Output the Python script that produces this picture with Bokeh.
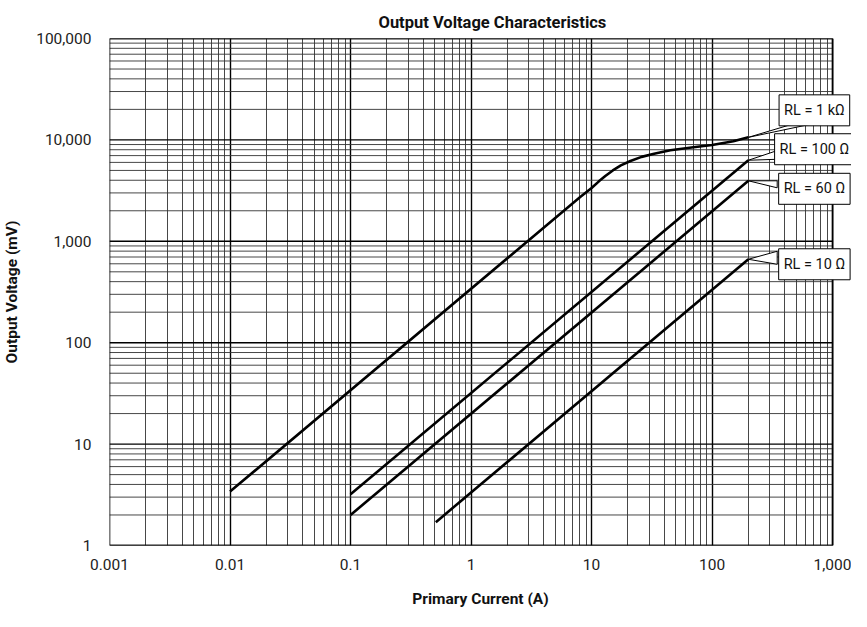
from bokeh.plotting import figure
from bokeh.models import Range1d, FixedTicker, Label
from bokeh.embed import file_html
from bokeh.resources import INLINE

# ---------------- data ----------------
x_ticks = [0.001, 0.01, 0.1, 1, 10, 100, 1000]
x_tick_labels = ["0.001", "0.01", "0.1", "1", "10", "100", "1,000"]
y_ticks = [1, 10, 100, 1000, 10000, 100000]
y_tick_labels = ["1", "10", "100", "1,000", "10,000", "100,000"]

series_names = ["RL = 1 kΩ", "RL = 100 Ω", "RL = 60 Ω", "RL = 10 Ω"]

current_1k = [0.01, 8, 10, 11.5, 13, 15, 17.5, 21, 26, 33, 45, 70, 100, 150, 200]
voltage_1k = [3.4, 2720, 3350, 3900, 4400, 5000, 5600, 6200, 6800, 7300, 7900, 8450, 8900, 9700, 10600]

current_100 = [0.1, 200]
voltage_100 = [3.2, 6300]

current_60 = [0.1, 200]
voltage_60 = [2.0, 3950]

current_10 = [0.51, 200]
voltage_10 = [1.7, 665]

series_current = [current_1k, current_100, current_60, current_10]
series_voltage = [voltage_1k, voltage_100, voltage_60, voltage_10]

# ---------------- layout / style ----------------
FONT = "Roboto"
W, H = 851, 611
ML, MT, MB = 104, 38, 66
GRID_W = 728          # pixel width of the gridded area (0.001 .. 1000)
EXTRA = W - ML - GRID_W   # room on the right for the callout boxes
FH = H - MT - MB
X0, X1, Y0, Y1 = 0.001, 1000, 1, 100000
DEC_X, DEC_Y = 6.0, 5.0
X_VIEW = X1 * 10 ** (EXTRA * DEC_X / GRID_W)

# callout geometry in pixels relative to the end of each curve
# (label centre dx, label centre dy (up), wedge base point 1, wedge base point 2)
callouts = [
    (66, 27, (47, 14), (67, 14)),
    (66, 11, (30, 10), (30, 1)),
    (66, -8, (29, 0), (29, -7)),
    (66, -5, (29, 8), (29, -5)),
]

p = figure(width=W, height=H, x_axis_type="log", y_axis_type="log",
           x_range=Range1d(X0, X_VIEW), y_range=Range1d(Y0, Y1),
           output_backend="svg", toolbar_location=None,
           min_border_left=ML, min_border_right=0,
           min_border_top=MT, min_border_bottom=MB)
p.background_fill_color = "white"
p.border_fill_color = "white"
p.outline_line_color = None

x_minor = [k * 10.0 ** d for d in range(-3, 3) for k in range(2, 10)]
y_minor = [k * 10.0 ** d for d in range(0, 5) for k in range(2, 10)]
p.xaxis.ticker = FixedTicker(ticks=x_ticks, minor_ticks=x_minor)
p.yaxis.ticker = FixedTicker(ticks=y_ticks, minor_ticks=y_minor)
p.xaxis.major_label_overrides = {t: l for t, l in zip(x_ticks, x_tick_labels)}
p.yaxis.major_label_overrides = {t: l for t, l in zip(y_ticks, y_tick_labels)}

for ax in (p.xaxis, p.yaxis):
    ax.axis_line_color = None
    ax.major_tick_line_color = None
    ax.minor_tick_line_color = None
    ax.major_tick_out = 0
    ax.major_tick_in = 0
    ax.minor_tick_out = 0
    ax.minor_tick_in = 0
    ax.major_label_text_font = FONT
    ax.major_label_text_font_size = "15.5px"
    ax.major_label_text_color = "#222222"
    ax.axis_label_text_font = FONT
    ax.axis_label_text_font_size = "15.5px"
    ax.axis_label_text_font_style = "bold"
    ax.axis_label_text_color = "#111111"

p.xaxis.axis_label = "Primary Current (A)"
p.yaxis.axis_label = "Output Voltage (mV)"
p.xaxis.major_label_standoff = 13
p.yaxis.major_label_standoff = 18
p.xaxis.axis_label_standoff = 17
p.yaxis.axis_label_standoff = 12

# vertical grid lines via the axis ticker
p.xgrid.grid_line_color = "black"
p.xgrid.grid_line_width = 1.4
p.xgrid.minor_grid_line_color = "#333333"
p.xgrid.minor_grid_line_width = 1
p.xgrid.minor_grid_line_alpha = 0.9
p.ygrid.grid_line_color = None

# horizontal grid lines only across the gridded area
p.segment(x0=[X0] * len(y_minor), x1=[X1] * len(y_minor), y0=y_minor, y1=y_minor,
          line_color="#333333", line_width=1, line_alpha=0.9)
p.segment(x0=[X0] * len(y_ticks), x1=[X1] * len(y_ticks), y0=y_ticks, y1=y_ticks,
          line_color="black", line_width=1.4)
# frame of the gridded area
p.quad(left=[X0], right=[X1], bottom=[Y0], top=[Y1], fill_color=None,
       line_color="black", line_width=1.6)

# curves
for cx, cy in zip(series_current, series_voltage):
    p.line(cx, cy, line_color="black", line_width=2.6)


def shift_x(x, px):
    return x * 10 ** (px * DEC_X / GRID_W)


def shift_y(y, px):
    return y * 10 ** (px * DEC_Y / FH)


# callout wedges
wx, wy = [], []
for cx, cy, (_, _, b1, b2) in zip(series_current, series_voltage, callouts):
    xe, ye = cx[-1], cy[-1]
    wx.append([xe, shift_x(xe, b1[0]), shift_x(xe, b2[0])])
    wy.append([ye, shift_y(ye, b1[1]), shift_y(ye, b2[1])])
p.patches(wx, wy, fill_color="white", line_color="black", line_width=1)

# callout boxes
for name, cx, cy, (ldx, ldy, _, _) in zip(series_names, series_current, series_voltage, callouts):
    xe, ye = cx[-1], cy[-1]
    shadow = Label(x=xe, y=ye, x_offset=ldx + 2, y_offset=ldy - 2, text=name,
                   text_font=FONT, text_font_size="14.5px", text_alpha=0,
                   text_align="center", text_baseline="middle",
                   background_fill_color="#555555", padding=(5, 7))
    box = Label(x=xe, y=ye, x_offset=ldx, y_offset=ldy, text=name,
                text_font=FONT, text_font_size="14.5px", text_color="#111111",
                text_align="center", text_baseline="middle",
                background_fill_color="white", border_line_color="black",
                border_line_width=1, padding=(5, 7))
    p.add_layout(shadow)
    p.add_layout(box)

# title
p.title.text = "Output Voltage Characteristics"
p.title.text_font = FONT
p.title.text_font_size = "16.5px"
p.title.text_font_style = "bold"
p.title.text_color = "#111111"
p.title.align = "left"
p.title.offset = 269
p.title.standoff = 14

open("out.html", "w").write(file_html(p, INLINE))
